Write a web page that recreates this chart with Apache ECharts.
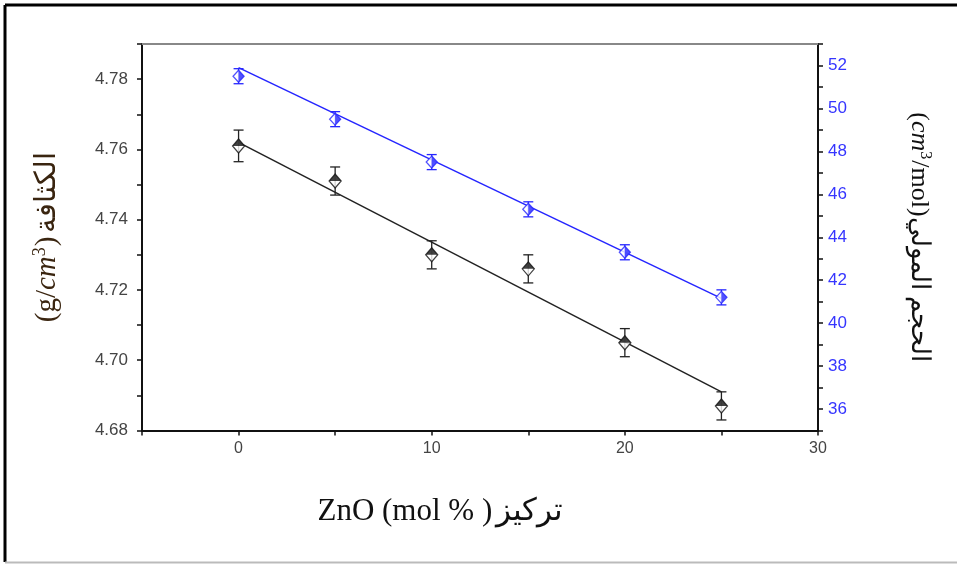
<!DOCTYPE html>
<html>
<head>
<meta charset="utf-8">
<script src="https://cdn.jsdelivr.net/npm/echarts@6/dist/echarts.min.js"></script>
<style>html,body{margin:0;padding:0;background:#fff}#c{width:957px;height:564px}</style>
</head>
<body>
<div id="c"></div>
<script>
// ZnO concentration (mol %)
const znoMol = [0, 5, 10, 15, 20, 25];
// Density (g/cm^3), left axis
const density = [4.761, 4.751, 4.730, 4.726, 4.705, 4.687];
const densityErr = [0.0045, 0.004, 0.004, 0.004, 0.004, 0.004];
const densityFitX = [0, 25];
const densityFitY = [4.762, 4.691];
// Molar volume (cm^3/mol), right axis
const molarVolume = [51.5, 49.5, 47.5, 45.3, 43.3, 41.2];
const molarVolumeErr = [0.35, 0.35, 0.35, 0.35, 0.35, 0.35];
const volumeFitX = [0, 25];
const volumeFitY = [51.9, 41.15];

const chart = echarts.init(document.getElementById('c'), null, {renderer: 'canvas'});

function errSeries(ys, errs, yAxisIndex, color) {
  return {
    type: 'custom',
    yAxisIndex: yAxisIndex,
    z: 3,
    silent: true,
    data: znoMol.map((x, i) => [x, ys[i], errs[i]]),
    renderItem: function (params, api) {
      const x = api.value(0), y = api.value(1), e = api.value(2);
      const top = api.coord([x, y + e]);
      const bot = api.coord([x, y - e]);
      const w = 5;
      const style = {stroke: color, lineWidth: 1.3};
      return {
        type: 'group',
        children: [
          {type: 'line', shape: {x1: top[0], y1: top[1], x2: bot[0], y2: bot[1]}, style: style},
          {type: 'line', shape: {x1: top[0] - w, y1: top[1], x2: top[0] + w, y2: top[1]}, style: style},
          {type: 'line', shape: {x1: bot[0] - w, y1: bot[1], x2: bot[0] + w, y2: bot[1]}, style: style}
        ]
      };
    }
  };
}

const serif = '"Liberation Serif", "Times New Roman", "DejaVu Serif", serif';
const sans = '"Liberation Sans", Arial, sans-serif';
const L = '\u200E';

function titleRich(color, size) {
  return {
    p: {fontFamily: serif, fontSize: size, color: color},
    i: {fontFamily: serif, fontSize: size, fontStyle: 'italic', color: color},
    s: {fontFamily: serif, fontSize: Math.round(size * 0.62), color: color, verticalAlign: 'top', padding: [0, 1, Math.round(size * 0.5), 0]},
    ar: {fontFamily: serif, fontSize: size, color: color}
  };
}

chart.setOption({
  animation: false,
  backgroundColor: '#fff',
  grid: {left: 142, right: 139, top: 44, bottom: 133.5, containLabel: false},
  xAxis: [{
    type: 'value', min: -5, max: 30, interval: 5,
    position: 'bottom',
    axisLine: {show: true, onZero: false, lineStyle: {color: '#111', width: 2}},
    axisTick: {show: true, length: 5, lineStyle: {color: '#111', width: 1.5}},
    splitLine: {show: false},
    axisLabel: {
      color: '#444', fontFamily: sans, fontSize: 16, margin: 10,
      formatter: v => (Math.round(v) % 10 === 0 && v >= 0) ? String(Math.round(v)) : ''
    },
    name: '{p|' + L + 'ZnO (mol % )' + L + '} {ar|تركيز}',
    nameLocation: 'middle', nameGap: 66,
    nameTextStyle: {rich: titleRich('#111', 31), padding: [0, 80, 0, 0]}
  }, {
    type: 'value', min: -5, max: 30, position: 'top',
    axisLine: {show: true, onZero: false, lineStyle: {color: '#888', width: 2}},
    axisTick: {show: false}, axisLabel: {show: false}, splitLine: {show: false}
  }],
  yAxis: [{
    type: 'value', min: 4.68, max: 4.79, interval: 0.01,
    position: 'left',
    axisLine: {show: true, onZero: false, lineStyle: {color: '#111', width: 2}},
    axisTick: {show: true, length: 5, lineStyle: {color: '#111', width: 1.5}},
    splitLine: {show: false},
    axisLabel: {
      color: '#444', fontFamily: sans, fontSize: 17, margin: 14,
      formatter: v => (Math.round(v * 100) % 2 === 0 && v < 4.785) ? v.toFixed(2) : ''
    },
    name: '{p|' + L + '(g/' + L + '}{i|cm}{s|3}{p|' + L + ')' + L + '} {ar|الكثافة}',
    nameLocation: 'middle', nameGap: 78, nameRotate: 90,
    nameTextStyle: {rich: titleRich('#3a2510', 29)}
  }, {
    type: 'value', min: 35, max: 53, interval: 1,
    position: 'right',
    axisLine: {show: true, onZero: false, lineStyle: {color: '#111', width: 2}},
    axisTick: {show: true, length: 5, lineStyle: {color: '#111', width: 1.5}},
    splitLine: {show: false},
    axisLabel: {
      color: '#3535ff', fontFamily: sans, fontSize: 17, margin: 10,
      formatter: v => (Math.round(v) % 2 === 0 && v < 52.5) ? String(Math.round(v)) : ''
    },
    name: '{p|' + L + '(' + L + '}{i|cm}{s|3}{p|' + L + '/mol)' + L + '}{ar|الحجم المولي}',
    nameLocation: 'middle', nameGap: 86, nameRotate: -90,
    nameTextStyle: {rich: titleRich('#111', 26)}
  }],
  series: [
    {
      type: 'line', yAxisIndex: 0, z: 2, silent: true,
      data: densityFitX.map((x, i) => [x, densityFitY[i]]),
      symbol: 'none', lineStyle: {color: '#222', width: 1.5}
    },
    {
      type: 'line', yAxisIndex: 1, z: 2, silent: true,
      data: volumeFitX.map((x, i) => [x, volumeFitY[i]]),
      symbol: 'none', lineStyle: {color: '#2525ff', width: 1.5}
    },
    errSeries(density, densityErr, 0, '#222'),
    errSeries(molarVolume, molarVolumeErr, 1, '#2525ff'),
    {
      type: 'scatter', yAxisIndex: 0, z: 4, silent: true,
      data: znoMol.map((x, i) => [x, density[i]]),
      symbol: 'diamond', symbolSize: [12, 14],
      itemStyle: {color: '#fff', borderColor: '#111', borderWidth: 1.3}
    },
    {
      type: 'scatter', yAxisIndex: 1, z: 4, silent: true,
      data: znoMol.map((x, i) => [x, molarVolume[i]]),
      symbol: 'diamond', symbolSize: [11, 12],
      itemStyle: {color: '#fff', borderColor: '#2525ff', borderWidth: 1.3}
    },
    {
      type: 'scatter', yAxisIndex: 0, z: 5, silent: true,
      data: znoMol.map((x, i) => [x, density[i]]),
      symbol: 'triangle', symbolSize: [12, 7], symbolOffset: [0, -3.5],
      itemStyle: {color: '#111'}
    },
    {
      type: 'scatter', yAxisIndex: 1, z: 5, silent: true,
      data: znoMol.map((x, i) => [x, molarVolume[i]]),
      symbol: 'path://M0,0 L1,1 L0,2 Z', symbolSize: [5.5, 12], symbolOffset: [2.75, 0],
      itemStyle: {color: '#2525ff'}
    }
  ],
  graphic: [
    {type: 'line', shape: {x1: 5, y1: 5, x2: 957, y2: 5}, style: {stroke: '#000', lineWidth: 3}, silent: true},
    {type: 'line', shape: {x1: 5, y1: 5, x2: 5, y2: 562}, style: {stroke: '#000', lineWidth: 3}, silent: true},
    {type: 'line', shape: {x1: 5, y1: 562.5, x2: 957, y2: 562.5}, style: {stroke: '#bbb', lineWidth: 2}, silent: true}
  ]
});
</script>
</body>
</html>
